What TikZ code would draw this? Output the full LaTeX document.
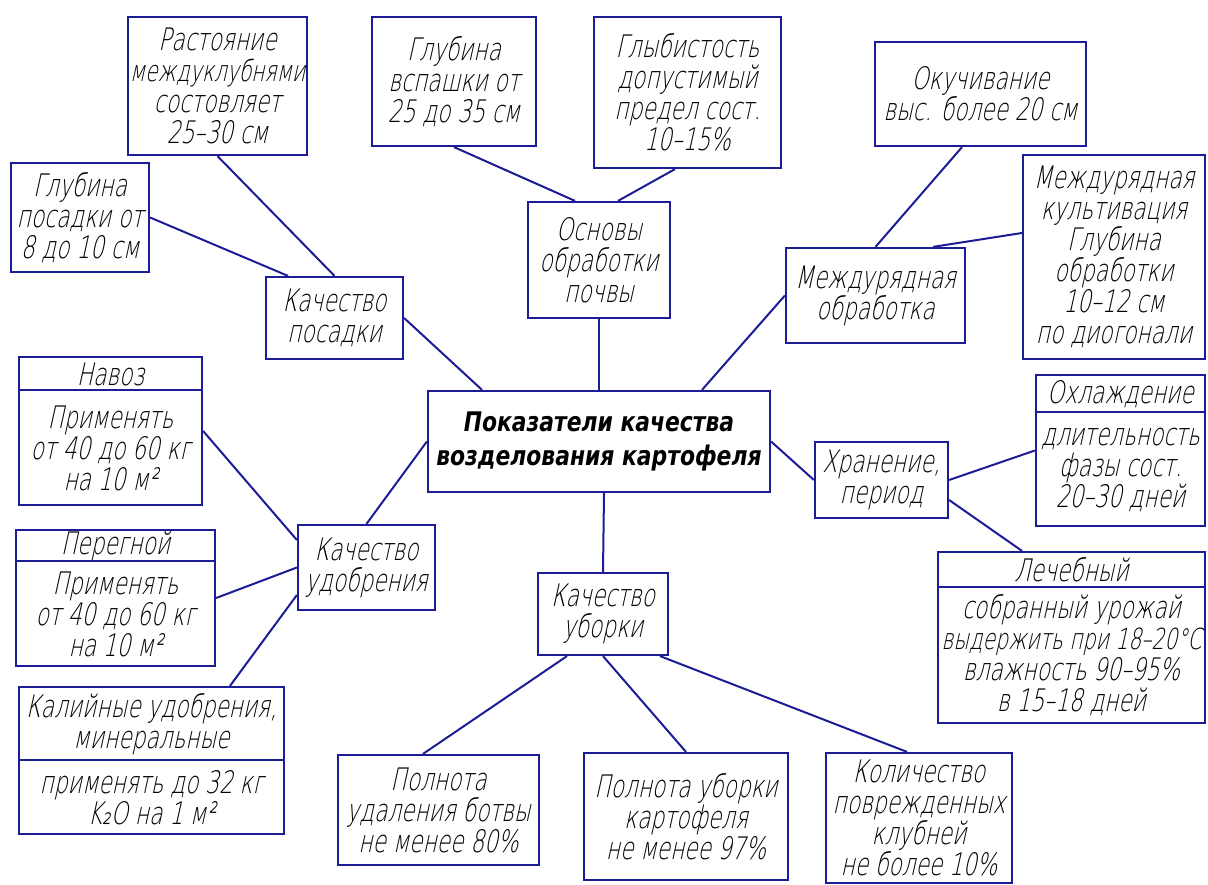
\documentclass[tikz,border=0pt]{standalone}
\usepackage{fontspec}
\setmainfont{DejaVu Sans ExtraLight}[FakeSlant=0.22,FakeStretch=0.7]
\newfontfamily\titlefont{DejaVu Sans Condensed}[FakeStretch=0.9]
\definecolor{lineblue}{RGB}{28,28,150}

\begin{document}
\begin{tikzpicture}[x=1pt,y=-1pt,
    box/.style={draw=lineblue,line width=2.2pt,rectangle,inner sep=0pt,align=center,font=\fontsize{31}{31}\selectfont},
    txt/.style={inner sep=0pt,align=center,font=\fontsize{31}{31}\selectfont},
    link/.style={draw=lineblue,line width=2pt},
    divider/.style={draw=lineblue,line width=2.2pt}]

    \useasboundingbox (0,0) rectangle (1208,885);

    % centre
    \node[box,minimum width=342pt,minimum height=101pt,font=\titlefont\bfseries\itshape\fontsize{27}{34}\selectfont] (central) at (599,441.5) {Показатели качества\\возделования картофеля};

    % upper left
    \node[box,minimum width=179pt,minimum height=138pt] (rast) at (217.5,86) {Растояние\\{\fontsize{29}{31}\selectfont междуклубнями}\\состовляет\\25--30 см};
    \node[box,minimum width=138pt,minimum height=109pt] (glposadki) at (80,217.5) {Глубина\\посадки от\\8 до 10 см};
    \node[box,minimum width=137pt,minimum height=82pt] (posadka) at (334.5,318) {Качество\\посадки};

    % upper middle
    \node[box,minimum width=164pt,minimum height=129pt] (vspashka) at (454,81.5) {Глубина\\вспашки от\\25 до 35 см};
    \node[box,minimum width=187pt,minimum height=151pt] (glyb) at (687.5,92.5) {Глыбистость\\допустимый\\предел сост.\\10--15\%};
    \node[box,minimum width=142pt,minimum height=116pt] (osnovy) at (599,260) {Основы\\обработки\\почвы};

    % upper right
    \node[box,minimum width=211pt,minimum height=104pt] (okuch) at (980.5,94) {Окучивание\\выс. более 20 см};
    \node[box,minimum width=182pt,minimum height=204pt] (kultiv) at (1114,257) {Междурядная\\культивация\\Глубина\\обработки\\10--12 см\\по диогонали};
    \node[box,minimum width=179pt,minimum height=95pt] (mezhd) at (875.5,295.5) {Междурядная\\обработка};

    % left
    \node[box,minimum width=183pt,minimum height=148pt] (navoz) at (110.5,431) {};
    \draw[divider] ([yshift=-34pt]navoz.north west) -- ([yshift=-34pt]navoz.north east);
    \node[txt] (navozh) at (110.5,374) {Навоз};
    \node[txt] (navozb) at (110.5,448) {Применять\\от 40 до 60 кг\\на 10 м²};

    \node[box,minimum width=199pt,minimum height=136pt] (peregnoi) at (115.5,598) {};
    \draw[divider] ([yshift=-32pt]peregnoi.north west) -- ([yshift=-32pt]peregnoi.north east);
    \node[txt] (peregnoih) at (115.5,546) {Перегной};
    \node[txt] (peregnoib) at (115.5,614) {Применять\\от 40 до 60 кг\\на 10 м²};

    \node[box,minimum width=265pt,minimum height=147pt] (kaliy) at (151.5,760.5) {};
    \draw[divider] ([yshift=-74pt]kaliy.north west) -- ([yshift=-74pt]kaliy.north east);
    \node[txt] (kaliyh) at (151.5,724) {Калийные удобрения,\\минеральные};
    \node[txt] (kaliyb) at (151.5,797.5) {применять до 32 кг\\K₂O на 1 м²};

    \node[box,minimum width=137pt,minimum height=85pt] (udobr) at (366.5,567.5) {Качество\\удобрения};

    % right
    \node[box,minimum width=133pt,minimum height=76pt] (hran) at (881.5,480) {Хранение,\\период};

    \node[box,minimum width=169pt,minimum height=151pt] (ohlazh) at (1120.5,450.5) {};
    \draw[divider] ([yshift=-38pt]ohlazh.north west) -- ([yshift=-38pt]ohlazh.north east);
    \node[txt] (ohlazhh) at (1120.5,394) {Охлаждение};
    \node[txt] (ohlazhb) at (1120.5,469.5) {длительность\\фазы сост.\\20--30 дней};

    \node[box,minimum width=267pt,minimum height=171pt] (lech) at (1071.5,637.5) {};
    \draw[divider] ([yshift=-36pt]lech.north west) -- ([yshift=-36pt]lech.north east);
    \node[txt] (lechh) at (1071.5,570) {Лечебный};
    \node[txt] (lechb) at (1071.5,655.5) {собранный урожай\\{\fontsize{29}{31}\selectfont выдержить при 18--20°С}\\влажность 90--95\%\\в 15--18 дней};

    % bottom
    \node[box,minimum width=130pt,minimum height=82pt] (uborka) at (603,614) {Качество\\уборки};
    \node[box,minimum width=201pt,minimum height=110pt] (botva) at (438.5,810) {Полнота\\удаления ботвы\\не менее 80\%};
    \node[box,minimum width=204pt,minimum height=127pt] (polnota) at (686,816.5) {Полнота уборки\\картофеля\\не менее 97\%};
    \node[box,minimum width=186pt,minimum height=130pt] (kolich) at (919,818) {Количество\\поврежденных\\клубней\\не более 10\%};

    \draw[link] (central.north) to (osnovy.south); % centre -> osnovy
    \draw[link] ([xshift=-117pt]central.north) to (posadka.east); % centre -> posadka
    \draw[link] (posadka.north) to (rast.south); % posadka -> rast
    \draw[link] ([xshift=-46.5pt]posadka.north) to (glposadki.east); % posadka -> glposadki
    \draw[link] ([xshift=-24pt]osnovy.north) to (vspashka.south); % osnovy -> vspashka
    \draw[link] ([xshift=19pt]osnovy.north) to ([xshift=-12.5pt]glyb.south); % osnovy -> glyb
    \draw[link] ([xshift=103pt]central.north) to (mezhd.west); % centre -> mezhd
    \draw[link] (mezhd.north) to ([xshift=-18.5pt]okuch.south); % mezhd -> okuch
    \draw[link] ([xshift=57.5pt]mezhd.north) to ([yshift=24pt]kultiv.west); % mezhd -> kultiv
    \draw[link] (central.east) to (hran.west); % centre -> hran
    \draw[link] (hran.east) to (ohlazh.west); % hran -> ohlazh
    \draw[link] ([yshift=-20pt]hran.east) to ([xshift=-49.5pt]lech.north); % hran -> lech
    \draw[link] (central.west) to (udobr.north); % centre -> udobr
    \draw[link] ([yshift=27.5pt]udobr.west) to (navoz.east); % udobr -> navoz
    \draw[link] (udobr.west) to (peregnoi.east); % udobr -> peregnoi
    \draw[link] ([yshift=-27.5pt]udobr.west) to ([xshift=78.5pt]kaliy.north); % udobr -> kaliy
    \draw[link] ([xshift=5pt]central.south) to (uborka.north); % centre -> uborka
    \draw[link] ([xshift=-36pt]uborka.south) to ([xshift=-15.5pt]botva.north); % uborka -> botva
    \draw[link] (uborka.south) to (polnota.north); % uborka -> polnota
    \draw[link] ([xshift=57pt]uborka.south) to ([xshift=-12pt]kolich.north); % uborka -> kolich

\end{tikzpicture}
\end{document}
